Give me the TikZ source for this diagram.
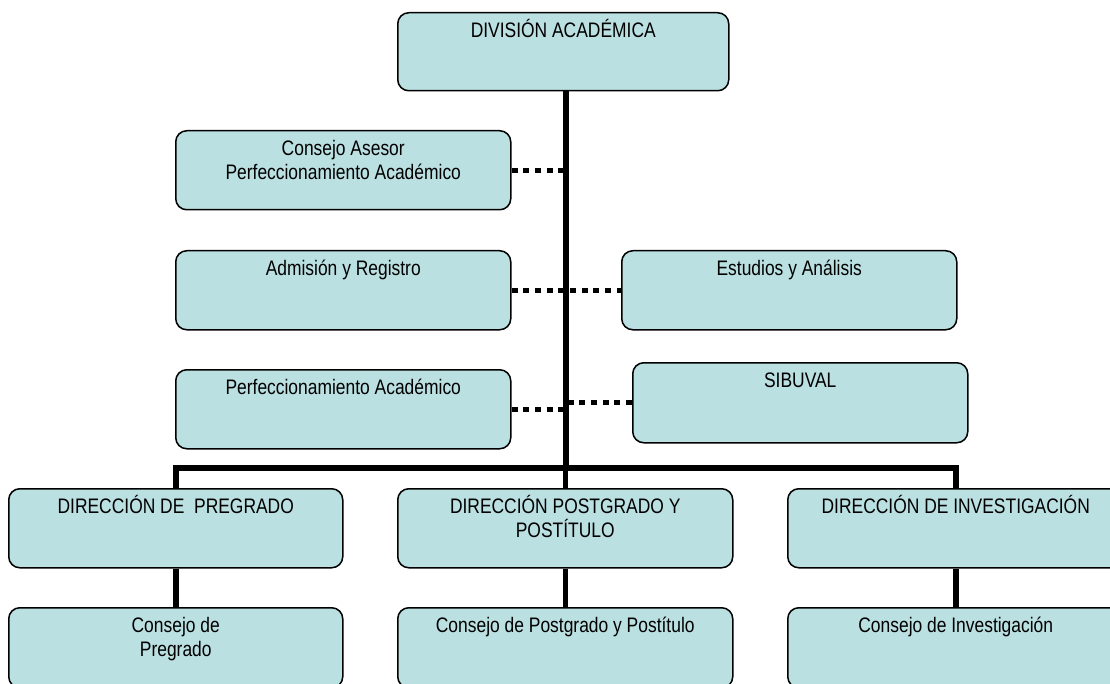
\documentclass[tikz,border=0pt]{standalone}
\usepackage{fontspec}
\setmainfont{Liberation Sans}[FakeStretch=0.83]
\definecolor{boxfill}{RGB}{187,224,226}
% box text: top-aligned, first baseline 25pt below the top edge
\newcommand{\boxtxt}[3]{\parbox[c][#2][t]{#1}{\centering\rule{0pt}{25pt}#3}}
\begin{document}
\begin{tikzpicture}[x=1pt,y=-1pt,
  orgbox/.style={draw=black, line width=1.5pt, fill=boxfill, rounded corners=11pt,
    inner sep=0pt, anchor=north west, font=\fontsize{21pt}{24pt}\selectfont},
  solidlink/.style={line width=5.5pt},
  dotlink/.style={line width=5pt, dash pattern=on 6pt off 5.7pt}]
\useasboundingbox (0,0) rectangle (1110,684);
\clip (0,0) rectangle (1110,684);

% top level
\node[orgbox] (div) at (397,12) {\boxtxt{331pt}{78pt}{DIVISIÓN ACADÉMICA}};

% staff units
\node[orgbox] (cas) at (175,130) {\boxtxt{335pt}{79pt}{Consejo Asesor\\Perfeccionamiento Académico}};
\node[orgbox] (adm) at (175,250) {\boxtxt{335pt}{79pt}{Admisión y Registro}};
\node[orgbox] (est) at (621,250) {\boxtxt{335pt}{79pt}{Estudios y Análisis}};
\node[orgbox] (per) at (175,369) {\boxtxt{335pt}{79pt}{Perfeccionamiento Académico}};
\node[orgbox] (sib) at (632,362) {\boxtxt{335pt}{80pt}{SIBUVAL}};

% directorates
\node[orgbox] (dpre) at (8,488)   {\boxtxt{334pt}{79pt}{DIRECCIÓN DE\ \ PREGRADO}};
\node[orgbox] (dpos) at (397,488) {\boxtxt{335pt}{79pt}{DIRECCIÓN POSTGRADO Y\\POSTÍTULO}};
\node[orgbox] (dinv) at (787,488) {\boxtxt{336pt}{79pt}{DIRECCIÓN DE INVESTIGACIÓN}};

% councils
\node[orgbox] (cpre) at (8,607)   {\boxtxt{334pt}{80pt}{Consejo de\\Pregrado}};
\node[orgbox] (cpos) at (397,607) {\boxtxt{335pt}{80pt}{Consejo de Postgrado y Postítulo}};
\node[orgbox] (cinv) at (787,607) {\boxtxt{336pt}{80pt}{Consejo de Investigación}};

% main trunk and branch bar
\coordinate (jc) at (566,468);
\draw[solidlink] (div.south -| jc) -- (jc);
\draw[solidlink] (dpre.north) -- ++(0,-20) -| (dinv.north);
\draw[solidlink] (dpos.north) -- (dpos.north |- jc);

% directorate to council
\draw[solidlink] (dpre.south) -- (cpre.north);
\draw[solidlink] (dpos.south) -- (cpos.north);
\draw[solidlink] (dinv.south) -- (cinv.north);

% advisory (dotted) links
\draw[dotlink] (cas.east) -- (cas.east -| jc);
\draw[dotlink] (adm.east) -- (est.west);
\draw[dotlink] (per.east) -- (per.east -| jc);
\draw[dotlink] (sib.west) -- (sib.west -| jc);
\end{tikzpicture}
\end{document}
